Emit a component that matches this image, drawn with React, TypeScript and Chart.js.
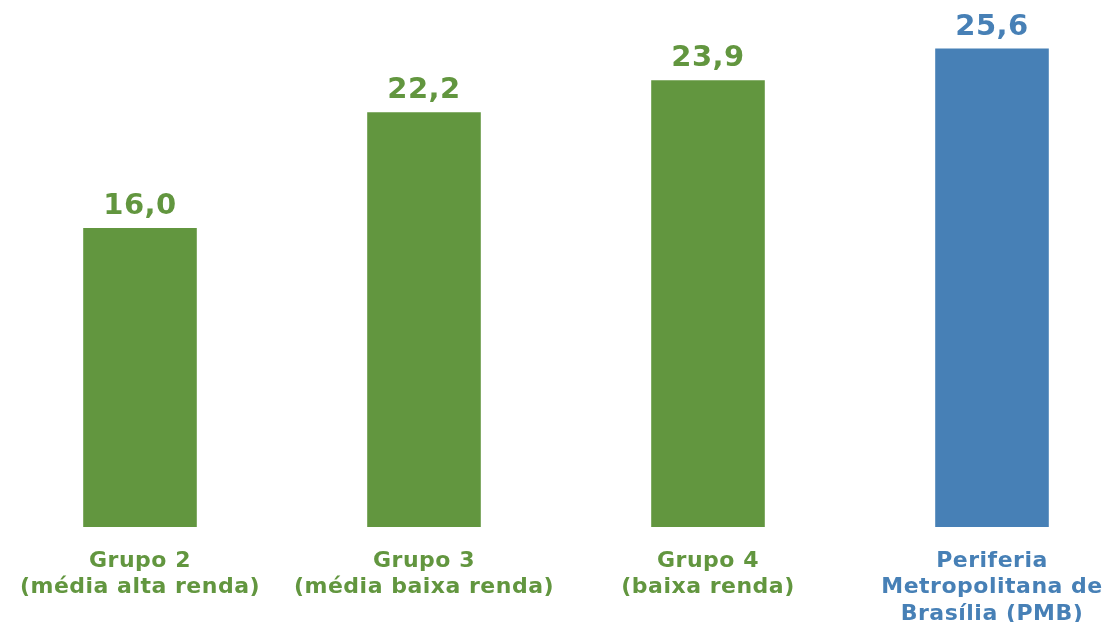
import React, { useEffect, useRef } from "react";
import { Chart, registerables } from "chart.js";

Chart.register(...registerables);

const categories: string[][] = [
  ["Grupo 2", "(média alta renda)"],
  ["Grupo 3", "(média baixa renda)"],
  ["Grupo 4", "(baixa renda)"],
  ["Periferia", "Metropolitana de", "Brasília (PMB)"],
];
const values: number[] = [16.0, 22.2, 23.9, 25.6];
const GREEN = "#62963f";
const BLUE = "#4780b6";
const barColors: string[] = [GREEN, GREEN, GREEN, BLUE];

const FONT = "'DejaVu Sans', Verdana, sans-serif";

const spacing = {
  id: "spacing",
  beforeDraw(chart: any) {
    chart.ctx.letterSpacing = "0.5px";
  },
};

const valueLabels = {
  id: "valueLabels",
  afterDatasetsDraw(chart: any) {
    const ctx = chart.ctx;
    const meta = chart.getDatasetMeta(0);
    ctx.save();
    ctx.font = `bold 29px ${FONT}`;
    ctx.letterSpacing = "0.5px";
    ctx.textAlign = "center";
    ctx.textBaseline = "alphabetic";
    meta.data.forEach((bar: any, i: number) => {
      ctx.fillStyle = barColors[i];
      const txt = values[i].toFixed(1).replace(".", ",");
      ctx.fillText(txt, bar.x, bar.y - 14);
    });
    ctx.restore();
  },
};

export default function App() {
  const ref = useRef<HTMLCanvasElement | null>(null);
  useEffect(() => {
    document.body.style.margin = "0";
    document.body.style.overflow = "hidden";
    const chart = new Chart(ref.current!, {
      type: "bar",
      data: {
        labels: categories,
        datasets: [
          {
            data: values,
            backgroundColor: barColors,
            borderWidth: 0,
            barPercentage: 0.4,
            categoryPercentage: 1,
          },
        ],
      },
      options: {
        animation: false,
        responsive: true,
        maintainAspectRatio: false,
        layout: { padding: 0 },
        plugins: {
          legend: { display: false },
          tooltip: { enabled: false },
        },
        scales: {
          y: { display: false, min: 0, max: 28.2 },
          x: {
            grid: { display: false, drawTicks: false },
            border: { display: false },
            ticks: {
              padding: 21,
              autoSkip: false,
              maxRotation: 0,
              color: barColors,
              font: { family: FONT, size: 22, weight: "bold", lineHeight: 1.2 },
            },
            afterFit(scale: any) {
              scale.height = 95;
            },
          },
        },
      },
      plugins: [spacing, valueLabels],
    });
    return () => chart.destroy();
  }, []);
  return (
    <div style={{ position: "fixed", left: -2, top: 0, width: 1136, height: 622 }}>
      <canvas ref={ref} />
    </div>
  );
}
